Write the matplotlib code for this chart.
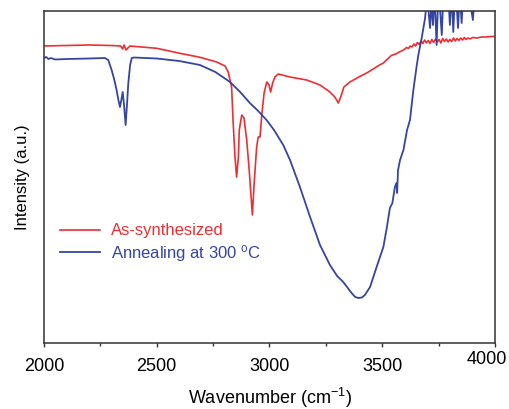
import matplotlib
matplotlib.use("Agg")
import matplotlib.pyplot as plt
import matplotlib.transforms as mtransforms
from matplotlib.ticker import MultipleLocator

plt.rcParams['font.family'] = ['Liberation Sans', 'DejaVu Sans']
plt.rcParams['mathtext.fontset'] = 'custom'
plt.rcParams['mathtext.rm'] = 'Liberation Sans'
plt.rcParams['mathtext.it'] = 'Liberation Sans:italic'

# As-synthesized (wavenumber, intensity a.u.)
red_wn = [2000, 2100, 2200, 2300, 2340, 2349, 2355, 2364, 2381, 2500, 2603, 2692,
          2766, 2803, 2817, 2832, 2839, 2847, 2854, 2862, 2866, 2877, 2887, 2899,
          2911, 2924, 2933, 2943, 2950, 2958, 2965, 2976, 2988, 2998, 3005, 3014,
          3024, 3039, 3091, 3165, 3224, 3268, 3290, 3305, 3316, 3330, 3357, 3400,
          3431, 3460, 3480, 3505, 3540, 3560, 3580, 3590,
          3600, 3608, 3616, 3624, 3632, 3640, 3648, 3656, 3664, 3672, 3680, 3688,
          3696, 3704, 3712, 3720, 3728, 3736, 3744, 3752, 3760, 3768, 3776, 3784,
          3792, 3800, 3808, 3816, 3824, 3832, 3840, 3848, 3856, 3864, 3872, 3880,
          3890, 3900, 3920, 3940, 3960, 3980, 4000]
red_int = [297, 297.5, 298, 297.5, 297, 294, 298, 293, 297, 294.7, 289.7, 285.7,
           281, 277, 271, 256, 220, 186, 166, 186, 213, 228, 225, 203,
           170, 128, 163, 196, 206, 206, 226, 250, 261, 258, 251, 260,
           266, 269, 266, 263, 258, 251, 246, 240, 246, 256, 261, 266.5,
           270, 274, 277, 280, 287.5, 289, 291.5, 292.5,
           294, 295.5, 294.5, 297, 296, 299, 297, 300.5, 298.5, 302, 299.5, 303,
           300, 302.5, 299.5, 303.5, 300.5, 304, 301, 303.5, 300, 304.5, 301.5, 304,
           301, 303.5, 301.5, 305, 302, 304.5, 302.5, 305, 303, 305.5, 303.5, 305,
           304, 305.5, 305, 306, 306, 306.5, 306.5]

# Annealing at 300 C
blue_wn = [2000, 2010, 2020, 2030, 2050, 2100, 2200, 2270, 2285, 2300, 2312, 2322,
           2330, 2337, 2343, 2349, 2355, 2362, 2368, 2374, 2382, 2389, 2400, 2500,
           2600, 2692, 2760, 2825, 2870, 2913, 2950, 2987, 3020, 3061, 3091, 3135,
           3180, 3224, 3268, 3300, 3327, 3364, 3380, 3394, 3410, 3423, 3446, 3475,
           3505, 3520, 3534, 3545, 3556, 3563, 3566, 3570, 3579, 3594, 3610, 3623,
           3638, 3652, 3660, 3675, 3690,
           3698, 3706, 3712, 3718, 3725, 3732, 3741, 3748, 3756, 3764, 3772, 3780,
           3790, 3800, 3808, 3815, 3822, 3830, 3836, 3844, 3852, 3860, 3870, 3880,
           3890, 3902, 3910, 3930, 3960, 4000]
blue_int = [285, 286, 284, 285, 283.5, 284, 284.5, 285, 283, 273, 263, 253,
            243, 236, 243, 251, 238, 218, 238, 260, 278, 285, 285.5, 284.5,
            282, 278, 271, 261, 251, 240, 232, 223, 213, 198, 183, 156,
            126, 98, 78, 67, 61, 50, 46, 45, 45.5, 48, 56, 76,
            96, 115, 135, 140, 156, 160, 150, 173, 183, 193, 213, 223,
            253, 276, 288, 305, 325,
            345, 330, 315, 340, 318, 350, 298, 345, 335, 308, 355, 340,
            360, 318, 350, 311, 345, 338, 315, 350, 320, 355, 345, 360,
            340, 323, 350, 360, 365, 370]

xticks = [2000, 2500, 3000, 3500, 4000]

fig = plt.figure(figsize=(5.09, 4.09), dpi=100)
ax = fig.add_axes([0.0864, 0.1614, 0.8861, 0.8117])

ax.plot(red_wn, red_int, color='#ee2e31', lw=1.2, label='As-synthesized')
ax.plot(blue_wn, blue_int, color='#3545a3', lw=1.3, label='Annealing at 300 $^{\\mathrm{o}}$C')

ax.set_xlim(2000, 4000)
ax.set_ylim(0, 332)
ax.set_xticks(xticks)
ax.xaxis.set_minor_locator(MultipleLocator(250))
ax.set_yticks([])
ax.tick_params(axis='x', which='major', direction='out', length=3, width=1,
               labelsize=13, pad=7.5, colors='#333333', labelcolor='black')
ax.tick_params(axis='x', which='minor', direction='out', length=2.5, width=1, colors='#333333')
for s in ax.spines.values():
    s.set_color('#333333')
    s.set_linewidth(1.1)

# the last tick label sits a bit up and to the left in the original
last = ax.get_xticklabels()[-1]
last.set_transform(last.get_transform() +
                   mtransforms.ScaledTranslation(-0.08, 0.065, fig.dpi_scale_trans))

ax.set_xlabel('Wavenumber (cm$^{-1}$)', fontsize=13, labelpad=8)
ax.set_ylabel('Intensity (a.u.)', fontsize=12, labelpad=10)

ax.legend(loc='upper left', bbox_to_anchor=(0.035, 0.36), frameon=False,
          fontsize=12, handlelength=2.4, handletextpad=0.7, labelspacing=0.25,
          borderpad=0, borderaxespad=0, labelcolor='linecolor')

fig.savefig('out.png', dpi=100)
